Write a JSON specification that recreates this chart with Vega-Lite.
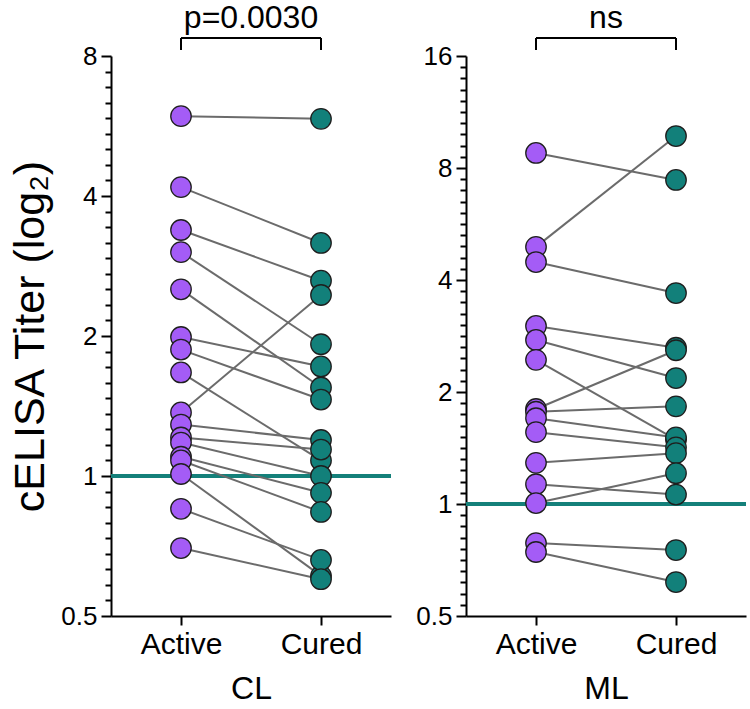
{
  "$schema": "https://vega.github.io/schema/vega-lite/v6.json",
  "padding": {"left": 9, "top": 1, "right": 2, "bottom": 2},
  "config": {
    "font": "Liberation Sans",
    "view": {"stroke": null},
    "axis": {"grid": false, "domainColor": "#000", "domainWidth": 2, "tickColor": "#000", "tickWidth": 2, "labelColor": "#000", "titleColor": "#000", "labelFont": "Liberation Sans", "titleFont": "Liberation Sans", "titleFontWeight": "normal"},
    "axisX": {"labelAngle": 0, "labelAlign": "center", "labelBaseline": "top", "labelFontSize": 30, "titleFontSize": 32, "tickSize": 9, "labelPadding": 4, "titlePadding": 14},
    "axisY": {"labelFontSize": 26, "labelPadding": 4, "titleFontSize": 43, "titlePadding": 8},
    "title": {"font": "Liberation Sans", "fontWeight": "normal", "color": "#000", "fontSize": 32, "offset": 2}
  },
  "datasets": {
    "cl": [
      {"id": 1, "group": "Active", "titer": 5.94}, {"id": 1, "group": "Cured", "titer": 5.86},
      {"id": 2, "group": "Active", "titer": 4.18}, {"id": 2, "group": "Cured", "titer": 3.17},
      {"id": 3, "group": "Active", "titer": 3.38}, {"id": 3, "group": "Cured", "titer": 2.63},
      {"id": 4, "group": "Active", "titer": 3.03}, {"id": 4, "group": "Cured", "titer": 1.92},
      {"id": 5, "group": "Active", "titer": 2.52}, {"id": 5, "group": "Cured", "titer": 1.55},
      {"id": 6, "group": "Active", "titer": 1.99}, {"id": 6, "group": "Cured", "titer": 1.72},
      {"id": 7, "group": "Active", "titer": 1.87}, {"id": 7, "group": "Cured", "titer": 1.46},
      {"id": 8, "group": "Active", "titer": 1.67}, {"id": 8, "group": "Cured", "titer": 1.08},
      {"id": 9, "group": "Active", "titer": 1.37}, {"id": 9, "group": "Cured", "titer": 2.45},
      {"id": 10, "group": "Active", "titer": 1.29}, {"id": 10, "group": "Cured", "titer": 1.195},
      {"id": 11, "group": "Active", "titer": 1.21}, {"id": 11, "group": "Cured", "titer": 1.14},
      {"id": 12, "group": "Active", "titer": 1.18}, {"id": 12, "group": "Cured", "titer": 1.0},
      {"id": 13, "group": "Active", "titer": 1.10}, {"id": 13, "group": "Cured", "titer": 0.92},
      {"id": 14, "group": "Active", "titer": 1.08}, {"id": 14, "group": "Cured", "titer": 0.837},
      {"id": 15, "group": "Active", "titer": 1.01}, {"id": 15, "group": "Cured", "titer": 0.61},
      {"id": 16, "group": "Active", "titer": 0.85}, {"id": 16, "group": "Cured", "titer": 0.66},
      {"id": 17, "group": "Active", "titer": 0.70}, {"id": 17, "group": "Cured", "titer": 0.60}
    ],
    "ml": [
      {"id": 1, "group": "Active", "titer": 8.78}, {"id": 1, "group": "Cured", "titer": 7.43},
      {"id": 2, "group": "Active", "titer": 4.91}, {"id": 2, "group": "Cured", "titer": 9.75},
      {"id": 3, "group": "Active", "titer": 4.47}, {"id": 3, "group": "Cured", "titer": 3.69},
      {"id": 4, "group": "Active", "titer": 3.01}, {"id": 4, "group": "Cured", "titer": 2.63},
      {"id": 5, "group": "Active", "titer": 2.76}, {"id": 5, "group": "Cured", "titer": 2.18},
      {"id": 6, "group": "Active", "titer": 2.44}, {"id": 6, "group": "Cured", "titer": 1.49},
      {"id": 7, "group": "Active", "titer": 1.80}, {"id": 7, "group": "Cured", "titer": 2.59},
      {"id": 8, "group": "Active", "titer": 1.77}, {"id": 8, "group": "Cured", "titer": 1.83},
      {"id": 9, "group": "Active", "titer": 1.70}, {"id": 9, "group": "Cured", "titer": 1.51},
      {"id": 10, "group": "Active", "titer": 1.56}, {"id": 10, "group": "Cured", "titer": 1.42},
      {"id": 11, "group": "Active", "titer": 1.29}, {"id": 11, "group": "Cured", "titer": 1.37},
      {"id": 12, "group": "Active", "titer": 1.13}, {"id": 12, "group": "Cured", "titer": 1.06},
      {"id": 13, "group": "Active", "titer": 1.006}, {"id": 13, "group": "Cured", "titer": 1.21},
      {"id": 14, "group": "Active", "titer": 0.785}, {"id": 14, "group": "Cured", "titer": 0.752},
      {"id": 15, "group": "Active", "titer": 0.743}, {"id": 15, "group": "Cured", "titer": 0.617}
    ],
    "bracket_cl": [
      {"group": "Active", "group2": "Cured", "y": 8.75, "y2": 8.75},
      {"group": "Active", "group2": "Active", "y": 8.24, "y2": 8.75},
      {"group": "Cured", "group2": "Cured", "y": 8.24, "y2": 8.75}
    ],
    "bracket_ml": [
      {"group": "Active", "group2": "Cured", "y": 17.88, "y2": 17.88},
      {"group": "Active", "group2": "Active", "y": 16.6, "y2": 17.88},
      {"group": "Cured", "group2": "Cured", "y": 16.6, "y2": 17.88}
    ],
    "threshold": [{"titer": 1}]
  },
  "spacing": 22,
  "hconcat": [
    {
      "width": 280,
      "height": 560,
      "title": {"text": "p=0.0030"},
      "resolve": {"axis": {"y": "independent"}},
      "layer": [
        {
          "data": {"name": "threshold"},
          "mark": {"type": "rule", "color": "#14807a", "strokeWidth": 4},
          "encoding": {
            "y": {"field": "titer", "type": "quantitative", "title": null,
              "scale": {"type": "log", "base": 2, "domain": [0.5, 8], "nice": false},
              "axis": {"orient": "left", "values": [0.54, 0.5833, 0.63, 0.6804, 0.7349, 0.7937, 0.8573, 0.9259, 1.0801, 1.1665, 1.2599, 1.3608, 1.4697, 1.5874, 1.7145, 1.8517, 2.1602, 2.333, 2.5198, 2.7216, 2.9394, 3.1748, 3.429, 3.7034, 4.3204, 4.666, 5.0397, 5.4432, 5.8788, 6.3496, 6.8579, 7.4068], "labels": false, "domain": false, "tickSize": 6, "title": null}}
          }
        },
        {
          "data": {"name": "bracket_cl"},
          "mark": {"type": "rule", "color": "#000", "strokeWidth": 2, "clip": false},
          "encoding": {
            "x": {"field": "group", "type": "nominal", "title": "CL"},
            "x2": {"field": "group2"},
            "y": {"field": "y", "type": "quantitative", "title": "cELISA Titer (log₂)", "axis": null},
            "y2": {"field": "y2"}
          }
        },
        {
          "data": {"name": "cl"},
          "mark": {"type": "line", "color": "#6b6b6b", "strokeWidth": 2},
          "encoding": {
            "x": {"field": "group", "type": "nominal", "title": "CL"},
            "y": {"field": "titer", "type": "quantitative", "title": "cELISA Titer (log₂)", "axis": null},
            "detail": {"field": "id"}
          }
        },
        {
          "data": {"name": "cl"},
          "mark": {"type": "point", "shape": "circle", "filled": true, "size": 420, "opacity": 1, "stroke": "#1e1e1e", "strokeWidth": 1.3},
          "encoding": {
            "x": {"field": "group", "type": "nominal", "title": "CL",
              "scale": {"type": "point", "padding": 0.5, "domain": ["Active", "Cured"]},
              "axis": {"labelAngle": 0, "labelAlign": "center", "titleFontSize": 32, "labelFontSize": 30, "titlePadding": 14}},
            "y": {"field": "titer", "type": "quantitative", "title": "cELISA Titer (log₂)",
              "axis": {"orient": "left", "values": [0.5, 1, 2, 4, 8], "tickSize": 10, "titleFontSize": 43, "labelFontSize": 26}},
            "color": {"field": "group", "type": "nominal", "scale": {"domain": ["Active", "Cured"], "range": ["#a45cf6", "#12807a"]}, "legend": null}
          }
        }
      ]
    },
    {
      "width": 280,
      "height": 560,
      "title": {"text": "ns"},
      "resolve": {"axis": {"y": "independent"}},
      "layer": [
        {
          "data": {"name": "threshold"},
          "mark": {"type": "rule", "color": "#14807a", "strokeWidth": 4},
          "encoding": {
            "y": {"field": "titer", "type": "quantitative", "title": null,
              "scale": {"type": "log", "base": 2, "domain": [0.5, 16], "nice": false},
              "axis": {"orient": "left", "values": [0.5359, 0.5743, 0.6156, 0.6598, 0.7071, 0.7579, 0.8123, 0.8706, 0.933, 1.0718, 1.1487, 1.2311, 1.3195, 1.4142, 1.5157, 1.6245, 1.7411, 1.8661, 2.1435, 2.2974, 2.4623, 2.639, 2.8284, 3.0314, 3.249, 3.4822, 3.7321, 4.2871, 4.5948, 4.9246, 5.278, 5.6569, 6.0629, 6.498, 6.9644, 7.4643, 8.5742, 9.1896, 9.8492, 10.5561, 11.3137, 12.1257, 12.996, 13.9288, 14.9285], "labels": false, "domain": false, "tickSize": 6, "title": null}}
          }
        },
        {
          "data": {"name": "bracket_ml"},
          "mark": {"type": "rule", "color": "#000", "strokeWidth": 2, "clip": false},
          "encoding": {
            "x": {"field": "group", "type": "nominal", "title": "ML"},
            "x2": {"field": "group2"},
            "y": {"field": "y", "type": "quantitative", "title": null, "axis": null},
            "y2": {"field": "y2"}
          }
        },
        {
          "data": {"name": "ml"},
          "mark": {"type": "line", "color": "#6b6b6b", "strokeWidth": 2},
          "encoding": {
            "x": {"field": "group", "type": "nominal", "title": "ML"},
            "y": {"field": "titer", "type": "quantitative", "title": null, "axis": null},
            "detail": {"field": "id"}
          }
        },
        {
          "data": {"name": "ml"},
          "mark": {"type": "point", "shape": "circle", "filled": true, "size": 420, "opacity": 1, "stroke": "#1e1e1e", "strokeWidth": 1.3},
          "encoding": {
            "x": {"field": "group", "type": "nominal", "title": "ML",
              "scale": {"type": "point", "padding": 0.5, "domain": ["Active", "Cured"]},
              "axis": {"labelAngle": 0, "labelAlign": "center", "titleFontSize": 32, "labelFontSize": 30, "titlePadding": 14}},
            "y": {"field": "titer", "type": "quantitative", "title": null,
              "axis": {"orient": "left", "values": [0.5, 1, 2, 4, 8, 16], "tickSize": 10, "labelFontSize": 26}},
            "color": {"field": "group", "type": "nominal", "scale": {"domain": ["Active", "Cured"], "range": ["#a45cf6", "#12807a"]}, "legend": null}
          }
        }
      ]
    }
  ]
}
